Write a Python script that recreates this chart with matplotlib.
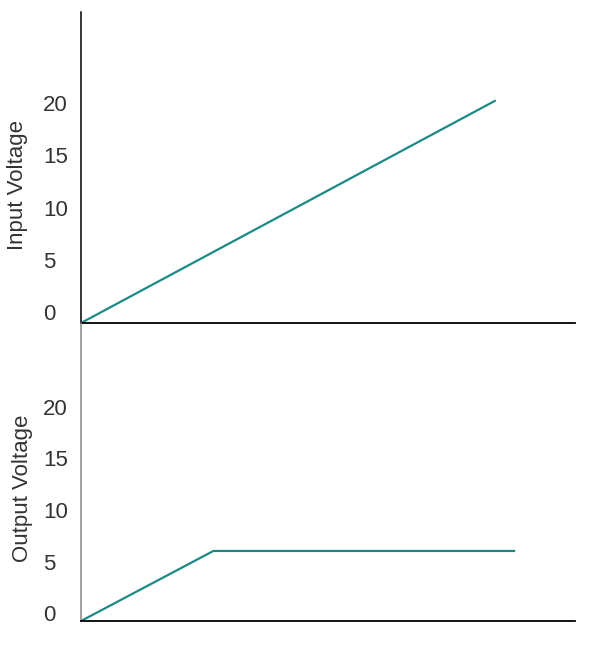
import matplotlib
matplotlib.use("Agg")
import matplotlib.pyplot as plt
from matplotlib.transforms import ScaledTranslation

plt.rcParams['font.family'] = ['Liberation Sans', 'DejaVu Sans']

# data
input_x = [0, 21.3]
input_y = [0, 21.3]
output_x = [0, 6.8, 22.3]
output_y = [0, 6.8, 6.8]
ytick_vals = [0, 5, 10, 15, 20]
ytick_labels = ["0", "5", "10", "15", "20"]

teal = "#1b8a86"
text_col = "#333333"

fig = plt.figure(figsize=(6.13, 6.52), dpi=100)
ax1 = fig.add_axes([81/613, 1-323/652, 494/613, 311/652])
ax2 = fig.add_axes([81/613, 1-621/652, 494/613, 298/652])

ax1.plot(input_x, input_y, color=teal, lw=1.6, solid_capstyle='butt')
ax2.plot(output_x, output_y, color=teal, lw=1.6, solid_capstyle='butt')

xmax = 494/19.47
ax1.set_xlim(0, xmax)
ax2.set_xlim(0, xmax)
ax1.set_ylim(0, 311/10.45)
ax2.set_ylim(0, 298/10.3)

for ax, lab, ly, lx, lcol, dy in [(ax1, "Input Voltage", 0.444, -0.107, 'black', 3),
                                   (ax2, "Output Voltage", 0.446, -0.097, '#888888', 0)]:
    for s in ['top', 'right']:
        ax.spines[s].set_visible(False)
    ax.spines['left'].set_color(lcol)
    ax.spines['left'].set_linewidth(1.1)
    ax.spines['bottom'].set_color('black')
    ax.spines['bottom'].set_linewidth(1.3)
    ax.set_xticks([])
    ax.set_yticks(ytick_vals)
    ax.set_yticklabels(ytick_labels, fontsize=16, color=text_col, ha='left', va='baseline')
    ax.tick_params(axis='y', length=0, pad=27.4)
    off = ScaledTranslation(0, dy/100, fig.dpi_scale_trans)
    for t in ax.get_yticklabels():
        t.set_transform(t.get_transform() + off)
    ax.set_ylabel(lab, fontsize=16, color=text_col)
    ax.yaxis.set_label_coords(lx, ly)
    ax.patch.set_alpha(0)

fig.savefig("out.png", dpi=100)
